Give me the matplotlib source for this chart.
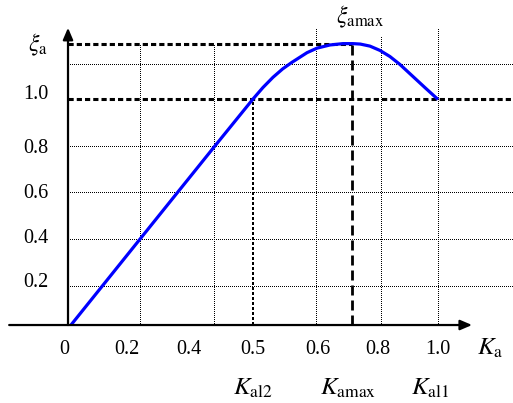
import matplotlib
matplotlib.use('Agg')
import matplotlib.pyplot as plt

plt.rcParams['font.family'] = ['Liberation Serif', 'DejaVu Serif']
plt.rcParams['mathtext.fontset'] = 'stix'

# Schematic coordinates: K_a position (1.0 at the K_al1 line), xi_a position (1.0 at the 1.0 line)
curve_k = [0.008, 0.195, 0.395, 0.5, 0.527, 0.554, 0.58, 0.605, 0.646, 0.673, 0.708,
           0.743, 0.770, 0.79, 0.816, 0.843, 0.870, 0.897, 0.932, 0.965, 1.0]
curve_xi = [0.0, 0.381, 0.788, 1.0, 1.051, 1.096, 1.133, 1.162, 1.205, 1.225, 1.239,
            1.245, 1.245, 1.243, 1.234, 1.215, 1.188, 1.153, 1.100, 1.050, 0.998]

# grid lines
vgrid_pos = [0.195, 0.395, 0.670, 0.846, 1.0]
vgrid_top = [1.243, 1.243, 1.312, 1.28, 1.312]
hgrid_pos = [0.173, 0.381, 0.588, 0.792, 1.155]

# key values
k_al2 = 0.5
k_amax = 0.768
xi_amax = 1.243

# tick labels and their positions
xtick_labels = ['0', '0.2', '0.4', '0.5', '0.6', '0.8', '1.0']
xtick_pos = [-0.011, 0.159, 0.327, 0.5, 0.676, 0.838, 1.0]
ytick_labels = ['0.2', '0.4', '0.6', '0.8', '1.0']
ytick_pos = [0.190, 0.381, 0.584, 0.783, 1.022]

fig = plt.figure(figsize=(5.13, 4.03), dpi=100)
ax = fig.add_axes([0, 0, 1, 1])
ax.set_xlim(-0.1838, 1.2027)
ax.set_ylim(-0.345, 1.438)
ax.axis('off')

fine = dict(color='black', lw=0.72, linestyle=(0, (1, 1.2)), antialiased=False)
for x, top in zip(vgrid_pos, vgrid_top):
    ax.plot([x, x], [0, top], **fine)
for y in hgrid_pos:
    ax.plot([0, 1.2027], [y, y], **fine)

# K_al2 vertical (heavier dots)
ax.plot([k_al2, k_al2], [0, 1.0], color='black', lw=1.5, linestyle=(0, (1, 1)),
        antialiased=False)

# thick dashed levels
thick = dict(color='black', lw=2.2, linestyle=(0, (1.7, 1.0)), dash_capstyle='butt')
ax.plot([0, 1.2027], [1.0, 1.0], **thick)
ax.plot([0, k_amax], [xi_amax, xi_amax], **thick)

# K_amax dashed
ax.plot([k_amax, k_amax], [0, xi_amax], color='black', lw=2.0,
        linestyle=(0, (3.6, 1.8)), dash_capstyle='butt')

# curve
ax.plot(curve_k, curve_xi, color='#0000ff', lw=2.3, solid_capstyle='butt',
        solid_joinstyle='round', zorder=5)

# axes with arrows
arrow = dict(arrowstyle='-|>,head_length=0.7,head_width=0.3', color='black', lw=1.6,
             shrinkA=0, shrinkB=0)
ax.annotate('', xy=(1.092, 0), xytext=(-0.159, 0), arrowprops=arrow, zorder=6)
ax.annotate('', xy=(0, 1.315), xytext=(0, 0), arrowprops=arrow, zorder=6)

for lab, x in zip(xtick_labels, xtick_pos):
    ax.text(x, -0.11, lab, ha='center', va='center', fontsize=14.5)
for lab, y in zip(ytick_labels, ytick_pos):
    ax.text(-0.054, y, lab, ha='right', va='center', fontsize=14.5)

ax.text(-0.054, 1.239, r'$\xi_{\mathrm{a}}$', ha='right', va='center', fontsize=17)
ax.text(0.789, 1.363, r'$\xi_{\mathrm{amax}}$', ha='center', va='center', fontsize=17)
ax.text(1.141, -0.105, r'$K_{\mathrm{a}}$', ha='center', va='center', fontsize=18)
ax.text(k_al2, -0.279, r'$K_{\mathrm{al2}}$', ha='center', va='center', fontsize=18)
ax.text(0.757, -0.279, r'$K_{\mathrm{amax}}$', ha='center', va='center', fontsize=18)
ax.text(0.978, -0.279, r'$K_{\mathrm{al1}}$', ha='center', va='center', fontsize=18)

fig.savefig('out.png', dpi=100)
